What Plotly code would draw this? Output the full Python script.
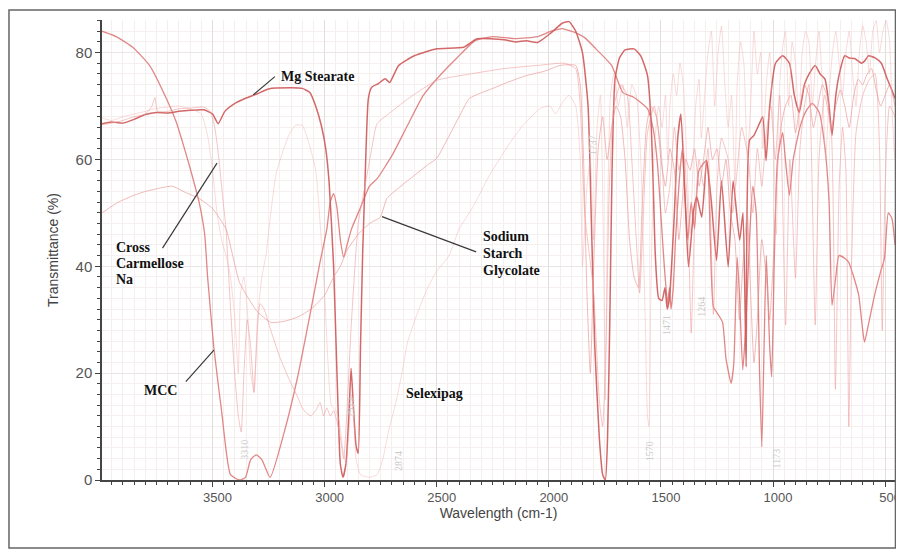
import plotly.graph_objects as go

# ---------------- data (wavenumber cm-1, transmittance %) ----------------
mcc_points = [
    (3993, 84), (3930, 83), (3856, 81), (3781, 77.6), (3706, 71.4), (3662, 67), (3618, 61),
    (3591, 57), (3560, 52), (3535, 46), (3522, 38), (3494, 24.7), (3459, 12.7), (3420, 1),
    (3380, 0), (3353, 0.5), (3330, 3.8), (3305, 4.7), (3280, 3.8), (3243, 0.5), (3180, 9),
    (3122, 19), (3065, 31), (3021, 40.7), (2990, 47), (2975, 52), (2960, 53.6), (2945, 51),
    (2930, 45), (2915, 41.7), (2900, 44), (2880, 47), (2840, 51), (2800, 55), (2766, 56.4),
    (2700, 60.7), (2630, 66.4), (2560, 72), (2480, 76), (2410, 79), (2330, 82.2), (2250, 83),
    (2150, 82.6), (2050, 83), (1990, 84), (1940, 84.5), (1900, 84), (1870, 83.5), (1840, 82.8),
    (1790, 80.7), (1720, 77.6), (1670, 72.5), (1620, 71.6), (1560, 69.5), (1535, 65.8),
    (1515, 58.9), (1500, 49.5), (1485, 40), (1470, 33), (1462, 36), (1455, 32), (1445, 36),
    (1435, 45), (1420, 55), (1405, 62), (1395, 55), (1380, 45), (1365, 52), (1350, 47),
    (1330, 58), (1296, 59.8), (1280, 45), (1266, 32.4), (1245, 31), (1225, 29.5), (1210, 22.8),
    (1187, 18.1), (1175, 21.8), (1160, 41.7), (1150, 35), (1135, 20.6), (1120, 30), (1105, 45),
    (1090, 55), (1075, 50), (1060, 20), (1050, 6.2), (1040, 25), (1030, 42), (1015, 25),
    (1006, 19.3), (995, 40), (980, 60), (957, 65), (945, 60), (927, 53.3), (910, 60), (880, 66),
    (856, 68.8), (825, 70.5), (794, 68.8), (768, 62), (750, 52), (737, 32.7), (720, 38),
    (706, 42), (680, 41.5), (662, 40.7), (640, 38), (618, 34.6), (600, 28), (592, 25.8),
    (575, 29), (547, 34.6), (520, 39), (503, 41.5), (486, 50), (470, 49), (456, 44),
]

mg_stearate_points = [
    (3993, 66.7), (3950, 67), (3900, 66.8), (3850, 67.5), (3800, 68.4), (3750, 68.8), (3700, 68.7),
    (3650, 69), (3600, 69.2), (3540, 69.3), (3500, 68.5), (3475, 66.7), (3445, 69), (3400, 70.5),
    (3350, 71.5), (3300, 72.3), (3250, 73.2), (3150, 73.4), (3100, 73.3), (3065, 72.5), (3040, 70),
    (3015, 66.4), (2995, 62), (2980, 55.7), (2960, 40), (2945, 20), (2930, 3), (2918, 0.5),
    (2905, 3), (2892, 12), (2882, 20.9), (2872, 14), (2860, 6.5), (2850, 5), (2840, 25), (2830, 43),
    (2820, 55.7), (2805, 71.4), (2790, 73.5), (2760, 74.2), (2730, 75.1), (2710, 74.4),
    (2670, 77.6), (2600, 79.4), (2500, 80.7), (2380, 81), (2320, 82.6), (2200, 82.4), (2150, 82),
    (2100, 82.2), (2050, 81.9), (1990, 83.7), (1940, 85.5), (1910, 85.8), (1880, 84), (1850, 80),
    (1825, 70), (1810, 48), (1795, 25), (1775, 8), (1760, 1), (1748, 0), (1738, 8), (1728, 30),
    (1718, 58), (1705, 75), (1685, 79), (1660, 80.5), (1620, 80.7), (1590, 79.4), (1560, 75.7),
    (1545, 68), (1535, 56), (1525, 42), (1510, 34), (1495, 33.6), (1482, 36), (1472, 32),
    (1462, 34), (1440, 50), (1425, 64), (1411, 68.5), (1392, 52.3), (1377, 39.9), (1354, 50.5),
    (1340, 53), (1318, 49.2), (1296, 59.8), (1275, 52), (1252, 41.1), (1230, 56), (1200, 39.9),
    (1178, 56), (1149, 44.9), (1134, 50), (1120, 21.2), (1105, 63.6), (1085, 64.5), (1061, 66.7),
    (1046, 68), (1031, 59.8), (1015, 70), (989, 78), (957, 79.4), (927, 78), (905, 72),
    (883, 68.8), (860, 74), (839, 76), (812, 77.6), (790, 76), (768, 75), (750, 70), (737, 64.5),
    (720, 72), (706, 75.7), (680, 79.4), (660, 79), (636, 78.9), (605, 78), (590, 78.5),
    (574, 79.4), (545, 79), (517, 78), (490, 75), (470, 73), (456, 71.4),
]

cross_carmellose_na_points = [
    (3993, 66.5), (3950, 66.8), (3900, 67.3), (3850, 68), (3800, 68.5), (3770, 70), (3757, 71.6),
    (3745, 69), (3700, 69), (3650, 69.5), (3600, 69.6), (3540, 69.8), (3510, 69), (3490, 66),
    (3480, 63), (3470, 59.4), (3455, 53), (3440, 47), (3425, 36), (3405, 22), (3385, 12),
    (3372, 9), (3360, 20), (3345, 30), (3330, 25), (3315, 16.4), (3300, 28), (3288, 33),
    (3270, 32), (3240, 28), (3200, 23), (3160, 19), (3120, 15.5), (3100, 13.5), (3080, 12.5),
    (3060, 12), (3040, 13), (3020, 14.5), (3005, 12), (2990, 13.5), (2975, 12), (2960, 13),
    (2945, 11), (2930, 8), (2915, 4), (2880, 30), (2850, 48), (2820, 55), (2790, 62),
    (2766, 66.7), (2700, 69), (2640, 71), (2500, 74.8), (2350, 76), (2200, 77), (2050, 77.6),
    (1930, 78), (1880, 77), (1860, 70), (1840, 50), (1800, 35), (1775, 15), (1760, 10),
    (1745, 25), (1730, 55), (1710, 70), (1680, 74), (1650, 72), (1630, 60), (1610, 45),
    (1595, 35), (1580, 48), (1560, 65), (1530, 70), (1500, 62), (1480, 50), (1460, 55),
    (1440, 66), (1420, 58), (1400, 62), (1380, 50), (1365, 27.5), (1350, 48), (1330, 60),
    (1310, 55), (1290, 62), (1266, 31), (1250, 55), (1230, 64), (1200, 60), (1180, 50),
    (1160, 58), (1140, 66), (1110, 60), (1090, 50), (1070, 62), (1050, 55), (1030, 65),
    (1010, 70), (990, 60), (970, 72), (944, 29), (925, 60), (900, 37.8), (880, 62), (860, 70),
    (840, 74), (812, 29), (795, 60), (770, 72), (740, 65), (722, 17), (705, 55), (690, 66),
    (675, 58), (662, 10), (650, 40), (630, 65), (600, 72), (570, 75), (545, 76), (525, 62),
    (513, 28), (500, 55), (480, 70), (456, 68),
]

sodium_starch_glycolate_points = [
    (3993, 50), (3920, 52), (3850, 53.3), (3800, 54), (3740, 54.6), (3680, 55), (3620, 53.8),
    (3560, 52.7), (3500, 50.8), (3440, 47), (3410, 42), (3380, 37), (3340, 34), (3300, 31.5),
    (3240, 29.5), (3180, 29.7), (3120, 30.5), (3060, 32), (3000, 34.6), (2960, 38), (2930, 40),
    (2900, 43), (2850, 46), (2800, 48), (2752, 49.2), (2722, 52.7), (2660, 55), (2600, 57),
    (2540, 59), (2500, 60.2), (2450, 64), (2400, 68), (2355, 71.4), (2300, 72.5), (2250, 73.3),
    (2180, 74.5), (2100, 75.7), (2020, 76.5), (1950, 77.6), (1880, 77.6), (1860, 74),
    (1845, 60), (1830, 35), (1815, 20), (1800, 40), (1780, 62), (1760, 68), (1740, 60),
    (1720, 66), (1700, 70), (1680, 68), (1660, 60), (1640, 45), (1620, 38), (1600, 36),
    (1585, 50), (1565, 66), (1545, 70), (1520, 68), (1500, 60), (1480, 55), (1460, 62),
    (1440, 58), (1420, 45), (1405, 52), (1390, 60), (1370, 58), (1350, 62), (1330, 55),
    (1310, 60), (1290, 66), (1270, 60), (1250, 62), (1230, 55), (1210, 60), (1190, 50),
    (1170, 45), (1150, 30), (1135, 40), (1115, 50), (1100, 35), (1085, 22), (1070, 30),
    (1050, 45), (1030, 38), (1015, 30), (1000, 40), (985, 55), (965, 66), (945, 70), (920, 72),
    (900, 65), (880, 70), (860, 74), (840, 72), (820, 66), (800, 70), (780, 74), (760, 72),
    (740, 66), (720, 70), (700, 73), (680, 70), (660, 66), (640, 72), (620, 75), (600, 74),
    (580, 76), (560, 77), (540, 73), (520, 70), (500, 72), (480, 74), (456, 70),
]

selexipag_points = [
    (3993, 67.8), (3950, 67.3), (3900, 68), (3850, 68.5), (3800, 69), (3757, 69.5), (3700, 69.8),
    (3650, 70), (3600, 69.5), (3550, 68.5), (3520, 64), (3500, 58), (3480, 50), (3460, 45),
    (3440, 42), (3420, 38), (3400, 30), (3385, 20), (3375, 35), (3360, 38), (3345, 32),
    (3330, 20), (3315, 16.4), (3300, 30), (3280, 38), (3262, 42), (3240, 50), (3215, 57.6),
    (3160, 64.5), (3130, 66.4), (3100, 66.4), (3070, 63), (3040, 58), (3020, 48), (3000, 35),
    (2985, 22), (2970, 14), (2950, 13), (2935, 11), (2920, 6), (2905, 3), (2890, 10),
    (2880, 16), (2870, 12), (2860, 4), (2840, 1), (2800, 0.5), (2766, 1), (2740, 4),
    (2712, 9.7), (2685, 14), (2655, 20), (2630, 25.8), (2585, 31.4), (2540, 36), (2502, 39),
    (2445, 42), (2400, 47), (2340, 51), (2265, 57), (2175, 63), (2115, 66.4), (2040, 69.5),
    (1995, 70), (1970, 68.5), (1940, 70.6), (1910, 72), (1880, 70), (1860, 60), (1850, 40),
    (1830, 55), (1815, 60), (1800, 45), (1785, 66), (1770, 72), (1755, 40), (1748, 15),
    (1740, 45), (1725, 72), (1710, 76), (1690, 70), (1670, 74), (1650, 66), (1630, 74),
    (1610, 72), (1590, 60), (1570, 30), (1560, 12), (1553, 10), (1545, 35), (1530, 62),
    (1510, 70), (1495, 66), (1480, 72), (1470, 60), (1460, 70), (1445, 76), (1430, 72),
    (1415, 78), (1400, 74), (1385, 60), (1370, 46), (1360, 55), (1345, 70), (1330, 75),
    (1320, 64), (1305, 72), (1290, 80), (1275, 84), (1260, 70), (1245, 80), (1230, 85),
    (1215, 74), (1200, 66), (1185, 72), (1170, 55), (1160, 74), (1145, 82), (1130, 78),
    (1115, 60), (1100, 70), (1085, 84), (1070, 76), (1055, 80), (1045, 62), (1030, 74),
    (1015, 80), (1000, 66), (985, 46), (975, 70), (960, 80), (945, 84), (930, 70), (915, 82),
    (900, 78), (885, 66), (870, 80), (855, 84), (840, 82), (825, 70), (810, 78), (795, 84),
    (780, 74), (765, 60), (750, 72), (735, 80), (720, 84), (705, 78), (690, 72), (675, 80),
    (660, 84), (645, 76), (630, 70), (615, 80), (600, 85), (585, 82), (570, 76), (555, 84),
    (540, 86), (525, 80), (510, 84), (495, 86), (480, 82), (470, 70), (460, 62), (456, 60),
]

# peak labels (text, wavenumber, transmittance)
peak_labels = ["3310", "2923", "2874", "1737", "1570", "1471", "1264", "1173"]
peak_label_wn = [3361, 2884, 2670, 1804, 1553, 1478, 1320, 983]
peak_label_t = [5.6, 13.5, 3.5, 62.6, 5.4, 29, 32.5, 4]

x_tick_vals = [3500, 3000, 2500, 2000, 1500, 1000, 500]
y_tick_vals = [0, 20, 40, 60, 80]

# ---------------- styling ----------------
series = [
    ("MCC", mcc_points, "rgba(218,105,105,0.80)", 1.3),
    ("Mg Stearate", mg_stearate_points, "rgba(206,88,88,0.90)", 1.5),
    ("Cross Carmellose Na", cross_carmellose_na_points, "rgba(236,150,150,0.55)", 1.0),
    ("Sodium Starch Glycolate", sodium_starch_glycolate_points, "rgba(232,140,140,0.60)", 1.0),
    ("Selexipag", selexipag_points, "rgba(240,165,165,0.45)", 0.9),
]

fig = go.Figure()
for name, pts, color, width in series:
    xs = [p[0] for p in pts]
    ys = [p[1] for p in pts]
    fig.add_trace(go.Scatter(x=xs, y=ys, mode="lines", name=name,
                             line=dict(color=color, width=width, shape="spline", smoothing=0.5),
                             showlegend=False, hoverinfo="skip"))

serif = "Liberation Serif, Times New Roman, serif"
label_font = dict(family=serif, size=14, color="#111")

# sample labels, one line each: (text, wavenumber, transmittance, anchor)
sample_labels = [
    ("Mg Stearate", 3198, 75.6, "left"),
    ("Cross", 3936, 43.6, "left"),
    ("Carmellose", 3936, 40.6, "left"),
    ("Na", 3936, 37.6, "left"),
    ("MCC", 3730, 16.7, "center"),
    ("Sodium", 2297, 45.5, "left"),
    ("Starch", 2297, 42.4, "left"),
    ("Glycolate", 2297, 39.3, "left"),
    ("Selexipag", 2640, 16.2, "left"),
]
for txt, wx, ty, anc in sample_labels:
    fig.add_annotation(x=wx, y=ty, xref="x", yref="y", text="<b>" + txt + "</b>",
                       showarrow=False, xanchor=anc, yanchor="middle", font=label_font,
                       borderpad=0)

for txt, wx, ty in zip(peak_labels, peak_label_wn, peak_label_t):
    fig.add_annotation(x=wx, y=ty, xref="x", yref="y", text=txt, showarrow=False,
                       textangle=-90, font=dict(family=serif, size=10, color="#c9c9c9"))

leaders = [
    (3318, 72.1, 3222, 75.5),
    (3723, 43.4, 3480, 59.3),
    (3619, 18.4, 3494, 24.3),
    (2744, 49.3, 2324, 42.7),
]
for x0, y0, x1, y1 in leaders:
    fig.add_shape(type="line", xref="x", yref="y", x0=x0, y0=y0, x1=x1, y1=y1,
                  line=dict(color="#3a3a3a", width=1.2))

# outer frame of the picture (the page adds an 8px body margin)
fig.add_shape(type="rect", xref="paper", yref="paper",
              x0=-0.1173, y0=-0.1478, x1=1.0006, y1=1.0217,
              line=dict(color="#666", width=1.5), fillcolor="rgba(0,0,0,0)", layer="above")

sans = "Liberation Sans, Arial, sans-serif"
x_tick_font = dict(family=sans, size=13, color="#555")
y_tick_font = dict(family=sans, size=15, color="#555")
title_font = dict(family=sans, size=14, color="#444")

fig.update_layout(
    width=888, height=542,
    margin=dict(l=94, r=1, t=12, b=70),
    paper_bgcolor="white", plot_bgcolor="white",
    xaxis=dict(
        range=[3993, 456], tickvals=x_tick_vals, ticktext=[str(v) for v in x_tick_vals],
        automargin=False, ticklabelshift=-5, ticklabeloverflow="allow",
        ticks="outside", ticklen=5, tickcolor="#444", tickfont=x_tick_font,
        showline=True, linecolor="#444", linewidth=1.5, zeroline=False,
        showgrid=True, gridcolor="#e2dede", gridwidth=1,
        minor=dict(dtick=50, tick0=0, ticks="outside", ticklen=3, tickcolor="#444",
                   showgrid=True, gridcolor="#f5eeee", gridwidth=1),
        title=dict(text="Wavelength (cm-1)", font=title_font, standoff=2),
    ),
    yaxis=dict(
        range=[0, 86.1], tickvals=y_tick_vals, automargin=False,
        ticks="outside", ticklen=5, tickcolor="#444", tickfont=y_tick_font,
        showline=True, linecolor="#444", linewidth=1.5, zeroline=False,
        showgrid=True, gridcolor="#ebe6e6", gridwidth=1,
        minor=dict(dtick=2, tick0=0, ticks="outside", ticklen=3, tickcolor="#444",
                   showgrid=True, gridcolor="#f5efef", gridwidth=1),
        title=dict(text="Transmittance (%)", font=title_font, standoff=14),
    ),
)

fig.write_html("out.html")
